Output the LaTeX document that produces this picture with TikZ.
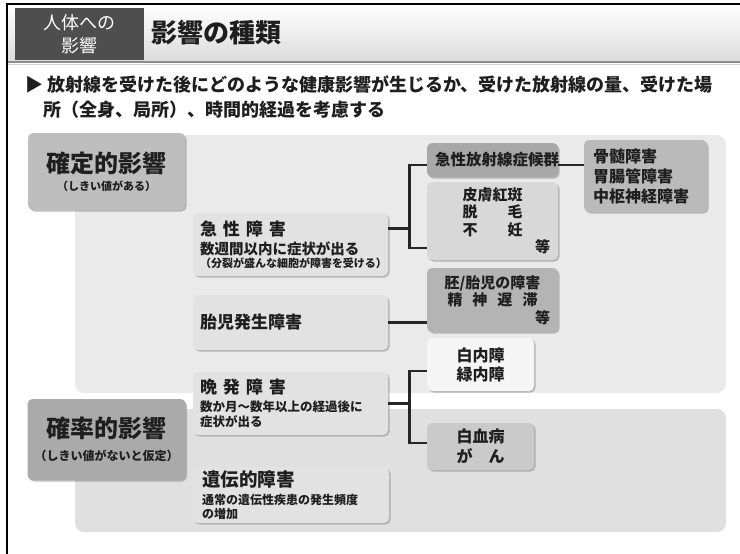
\documentclass[tikz,border=0pt]{standalone}
\usepackage{fontspec}
\setmainfont{Noto Sans CJK JP}
\usepackage{tikz}
\usetikzlibrary{shadows, calc}
\definecolor{headdark}{RGB}{78,78,78}
\definecolor{textgray}{RGB}{30,30,30}
\definecolor{areadet}{RGB}{234,234,234}
\definecolor{areasto}{RGB}{224,224,224}
\definecolor{detcolor}{RGB}{190,190,190}
\definecolor{stocolor}{RGB}{170,170,170}
\definecolor{boxlight}{RGB}{226,226,226}
\definecolor{arscolor}{RGB}{168,168,168}
\definecolor{skincolor}{RGB}{216,216,216}
\definecolor{embryocolor}{RGB}{180,180,180}
\definecolor{marrowcolor}{RGB}{186,186,186}
\definecolor{eyecolor}{RGB}{245,245,245}
\definecolor{cancercolor}{RGB}{202,202,202}

\begin{document}
\begin{tikzpicture}[
    x=1pt, y=-1pt,
    box/.style={rounded corners=5pt, text=textgray, inner xsep=7pt, inner ysep=0pt,
        drop shadow={shadow xshift=1.5pt, shadow yshift=-1.5pt, fill=black!50, opacity=0.5}},
    category/.style={box, minimum width=157pt, align=center},
    effect/.style={box, fill=boxlight, minimum width=195pt, text width=181pt, align=left},
    symptom/.style={box, minimum width=131pt, text width=115pt, align=center},
    conn/.style={line width=2.6pt, draw=black!85}
]
    \useasboundingbox (0,0) rectangle (740,554);
    \shade[top color=white, bottom color=black!14] (8,5) rectangle (740,62);
    \draw[black!45, line width=1.2pt] (8,62) -- (740,62);
    \draw[black!18, line width=1pt] (8,64) -- (740,64);
    \draw[line width=1.5pt] (740,4) -- (7,4) -- (7,554);

    \node[fill=headdark, minimum width=129, minimum height=52, inner sep=0, text=white, align=center,
        font=\fontsize{18}{23}\selectfont] (topic) at (79.5,34) {人体への\\影響};
    \node[anchor=west, inner sep=0, text=textgray, font=\bfseries\fontsize{26}{30}\selectfont] (title) at (151,33) {影響の種類};
    \node[anchor=west, inner sep=0, text=textgray, font=\bfseries\fontsize{18}{22}\selectfont] (lead1) at (25,85)
        {▶ 放射線を受けた後にどのような健康影響が生じるか、受けた放射線の量、受けた場};
    \node[anchor=west, inner sep=0, text=textgray, font=\bfseries\fontsize{18}{22}\selectfont] (lead2) at (43,110)
        {所（全身、局所）、時間的経過を考慮する};

    \fill[areadet, rounded corners=9pt] (75,135) rectangle (726,393);
    \fill[areasto, rounded corners=9pt] (75,409) rectangle (726,532);

    \node[category, fill=detcolor, minimum height=77, font=\bfseries\fontsize{11}{18}\selectfont] (det) at (106.5,171.5)
        {{\fontsize{24}{28}\selectfont 確定的影響}\\（しきい値がある）};
    \node[category, fill=stocolor, minimum height=81, font=\bfseries\fontsize{12}{22.5}\selectfont] (sto) at (106.5,439.5)
        {{\fontsize{24}{28}\selectfont 確率的影響}\\（しきい値がないと仮定）};

    \node[effect, minimum height=63, font=\bfseries\fontsize{11}{19}\selectfont] (acute) at (290.5,244.5)
        {{\fontsize{17}{20}\selectfont 急\hspace{6pt}性\hspace{6pt}障\hspace{6pt}害}\\
         {\fontsize{14.5}{17}\selectfont 数週間以内に症状が出る}\\[-5.5pt]
         （分裂が盛んな細胞が障害を受ける）};
    \node[effect, minimum height=55, font=\bfseries\fontsize{17}{20}\selectfont] (fetal) at (290.5,322.5) {胎児発生障害};
    \node[effect, minimum height=63, font=\bfseries\fontsize{12.5}{15}\selectfont] (late) at (290.5,403.5)
        {{\fontsize{17}{20}\selectfont 晩\hspace{6pt}発\hspace{6pt}障\hspace{6pt}害}\\[3pt]
         数か月～数年以上の経過後に\\症状が出る};
    \node[effect, minimum height=56, inner xsep=9pt, text width=178pt, font=\bfseries\fontsize{12}{14}\selectfont] (hered) at (291,495)
        {{\fontsize{18.5}{22}\selectfont 遺伝的障害}\\[3.6pt]
         通常の遺伝性疾患の発生頻度\\の増加};

    \node[symptom, fill=arscolor, minimum height=34, font=\bfseries\fontsize{15.5}{18}\selectfont] (ars) at (492.5,160) {急性放射線症候群};
    \node[symptom, fill=skincolor, minimum height=78, font=\bfseries\fontsize{15}{17.5}\selectfont] (skin) at (492.5,221)
        {皮膚紅斑\\脱　　毛\\不　　妊\\\mbox{}\hfill 等};
    \node[symptom, fill=embryocolor, minimum height=64, font=\bfseries\fontsize{15}{17.5}\selectfont] (embryo) at (492.5,300)
        {胚/胎児の障害\\精\hspace{10pt}神\hspace{10pt}遅\hspace{10pt}滞\\\mbox{}\hfill 等};
    \node[box, fill=marrowcolor, minimum width=123pt, text width=105pt, inner xsep=9pt, minimum height=72, align=left,
        font=\bfseries\fontsize{16}{20}\selectfont] (marrow) at (645.5,176) {骨髄障害\\胃腸管障害\\中枢神経障害};
    \node[box, fill=eyecolor, minimum width=107pt, minimum height=53, align=center,
        font=\bfseries\fontsize{16}{19}\selectfont] (cataract) at (480.5,364.5) {白内障\\緑内障};
    \node[box, fill=cancercolor, minimum width=107pt, minimum height=47, align=center,
        font=\bfseries\fontsize{16}{20}\selectfont] (leuk) at (480.5,446.5) {白血病\\が　ん};

    \draw[conn] ([yshift=16pt]acute.east) -- ++(21,0) coordinate (forkacute);
    \draw[conn] ([yshift=-5pt]ars.west) -| (forkacute) |- ([yshift=-27pt]skin.west);
    \coordinate (arsout) at ([yshift=-5pt]ars.east);
    \draw[conn] (arsout) -- (arsout -| marrow.west);
    \draw[conn] (fetal.east) -- (fetal.east -| embryo.west);
    \draw[conn] (late.east) -- ++(21,0) coordinate (forklate);
    \draw[conn] ([yshift=-6.5pt]cataract.west) -| (forklate) |- ([yshift=3.5pt]leuk.west);
\end{tikzpicture}
\end{document}
